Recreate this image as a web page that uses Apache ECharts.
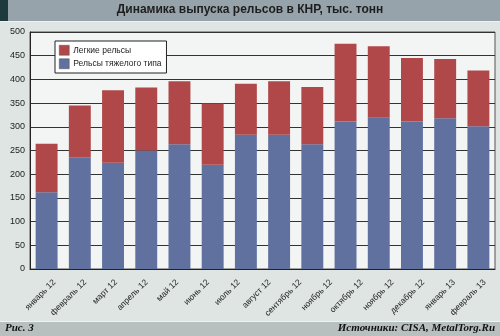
<!DOCTYPE html>
<html>
<head>
<meta charset="utf-8">
<script src="https://cdn.jsdelivr.net/npm/echarts@6/dist/echarts.min.js"></script>
<style>
  html, body { margin: 0; padding: 0; background: #dee5e2; }
  #chart { width: 500px; height: 336px; }
</style>
</head>
<body>
<div id="chart"></div>
<script>
// Monthly rail output in China, thousand tonnes
// axis captions as printed under the bars (15 captions for 14 columns)
const monthLabels = ['январь 12', 'февраль 12', 'март 12', 'апрель 12', 'май 12', 'июнь 12', 'июль 12',
  'август 12', 'сентябрь 12', 'ноябрь 12', 'октябрь 12', 'ноябрь 12', 'декабрь 12', 'январь 13', 'февраль 13'];
// one slot per column
const barSlots = ['1', '2', '3', '4', '5', '6', '7', '8', '9', '10', '11', '12', '13', '14'];
// stacked values: heavy rails at the bottom, light rails on top
const heavyRails = [162, 236, 224, 250, 263, 220, 283, 283, 263, 311, 319, 311, 318, 301];
const lightRails = [102, 109, 153, 133, 133, 129, 108, 113, 121, 164, 151, 134, 125, 118];
const seriesNames = ['Легкие рельсы', 'Рельсы тяжелого типа'];
const yTicks = { min: 0, max: 500, step: 50 };

const chart = echarts.init(document.getElementById('chart'), null, { renderer: 'canvas' });

chart.setOption({
  backgroundColor: '#dee5e2',
  animation: false,
  textStyle: { fontFamily: 'Liberation Sans, Arial, sans-serif' },
  graphic: [
    { type: 'rect', left: 0, top: 0, shape: { width: 500, height: 21 }, style: { fill: '#97a3ab' }, z: 0 },
    { type: 'rect', left: 0, top: 0, shape: { width: 8, height: 21 }, style: { fill: '#1f3a3f' }, z: 1 },
    { type: 'rect', left: 0, top: 21, shape: { width: 500, height: 1 }, style: { fill: '#eef2f0' }, z: 1 },
    { type: 'text', left: 'center', top: 4, style: {
        text: 'Динамика выпуска рельсов в КНР, тыс. тонн', fill: '#1e1e1e',
        font: 'bold 12px "Liberation Sans", Arial, sans-serif' }, z: 2 },
    { type: 'rect', left: 0, top: 321, shape: { width: 500, height: 1 }, style: { fill: '#eef2f0' }, z: 1 },
    { type: 'rect', left: 0, top: 322, shape: { width: 500, height: 14 }, style: { fill: '#b8bfbf' }, z: 0 },
    { type: 'text', left: 5, top: 323, style: {
        text: 'Рис. 3', fill: '#111',
        font: 'italic bold 11px "Liberation Serif", "Times New Roman", serif' }, z: 2 },
    { type: 'text', right: 5, top: 323, style: {
        text: 'Источники: CISA, MetalTorg.Ru', fill: '#111',
        font: 'italic bold 11px "Liberation Serif", "Times New Roman", serif' }, z: 2 }
  ],
  legend: {
    data: seriesNames,
    orient: 'vertical',
    left: 55, top: 41,
    itemWidth: 10, itemHeight: 10, itemGap: 3,
    padding: [4, 5, 4, 4],
    backgroundColor: '#ffffff',
    borderColor: '#222', borderWidth: 1, borderRadius: 0,
    icon: 'rect',
    textStyle: { fontSize: 8.5, color: '#222', padding: [0, 0, 0, -1] },
    itemStyle: { borderColor: '#555', borderWidth: 0.5 }
  },
  grid: [
    {
      left: 30, right: 5, top: 32, bottom: 67,
      show: true, backgroundColor: '#f3f4f4', borderColor: '#555', borderWidth: 1
    },
    // caption strip under the columns
    { left: 39, right: -9, top: 32, bottom: 67 }
  ],
  xAxis: [
    {
      type: 'category', gridIndex: 0,
      data: barSlots,
      axisLine: { lineStyle: { color: '#222', width: 1 } },
      axisTick: { show: false },
      axisLabel: { show: false }
    },
    {
      type: 'category', gridIndex: 1,
      data: monthLabels,
      axisLine: { show: false },
      axisTick: { show: false },
      splitLine: { show: false },
      axisLabel: { rotate: 45, interval: 0, fontSize: 8.5, color: '#222', margin: 12 }
    }
  ],
  yAxis: [
    {
      type: 'value', gridIndex: 0,
      min: yTicks.min, max: yTicks.max, interval: yTicks.step,
      axisLine: { show: true, lineStyle: { color: '#222' } },
      axisTick: { show: false },
      axisLabel: { fontSize: 9, color: '#222', margin: 5 },
      splitLine: { lineStyle: { color: '#333', width: 1 } }
    },
    {
      type: 'value', gridIndex: 1, show: false,
      min: yTicks.min, max: yTicks.max
    }
  ],
  series: [
    {
      name: seriesNames[1], type: 'bar', stack: 'rails',
      data: heavyRails, barWidth: '66%',
      itemStyle: { color: '#60719f' }
    },
    {
      name: seriesNames[0], type: 'bar', stack: 'rails',
      data: lightRails, barWidth: '66%',
      itemStyle: { color: '#b0484a' }
    }
  ]
});
</script>
</body>
</html>
